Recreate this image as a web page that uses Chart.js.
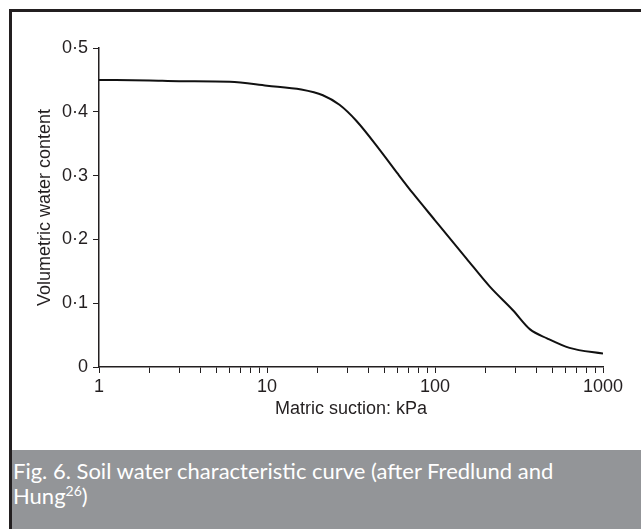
<!DOCTYPE html>
<html>
<head>
<meta charset="utf-8">
<script src="https://cdn.jsdelivr.net/npm/chart.js@4/dist/chart.umd.min.js"></script>
<style>
  html, body { margin:0; padding:0; background:#fff; }
  body { width:641px; height:529px; position:relative; overflow:hidden; }
  #frame { position:absolute; left:9px; top:9px; width:632px; height:520px;
           border-left:3px solid #231f20; border-top:3px solid #231f20; box-sizing:border-box; }
  #wrap { position:absolute; left:12px; top:12px; width:629px; height:438px; }
  #caption { position:absolute; left:12px; top:450px; width:629px; height:79px;
             background:#939598; color:#fff; font-family:"Lato","Open Sans",sans-serif;
             font-size:22px; line-height:25px; padding:8px 0 0 1px; box-sizing:border-box; }
  #caption sup { font-size:14px; line-height:0; vertical-align:0.55em; }
</style>
</head>
<body>
<div id="frame"></div>
<div id="wrap"><canvas id="c" width="629" height="438"></canvas></div>
<div id="caption">Fig. 6. Soil water characteristic curve (after Fredlund and<br>Hung<sup>26</sup>)</div>
<script>
// Matric suction (kPa) and volumetric water content
const suction = [1, 2, 3, 6, 10, 16, 21.5, 27, 34, 47, 60, 74, 100, 154, 212, 291, 368, 464, 632, 1000];
const waterContent = [0.450, 0.449, 0.448, 0.447, 0.441, 0.435, 0.426, 0.411, 0.386, 0.340, 0.303, 0.272, 0.230, 0.170, 0.126, 0.089, 0.059, 0.045, 0.030, 0.021];
const xMajorTicks = [1, 10, 100, 1000];
const xMinorMultipliers = [2, 3, 4, 5, 6, 7, 8, 9];
const yTicks = [0, 0.1, 0.2, 0.3, 0.4, 0.5];
const xTitle = 'Matric suction: kPa';
const yTitle = 'Volumetric water content';

const ink = '#231f20';
const font = { family: '"Liberation Sans", Arial, sans-serif', size: 18 };

const xTickValues = [];
xMajorTicks.forEach((m, i) => {
  xTickValues.push(m);
  if (i < xMajorTicks.length - 1) xMinorMultipliers.forEach(k => xTickValues.push(m * k));
});
xTickValues.sort((a, b) => a - b);

new Chart(document.getElementById('c'), {
  type: 'line',
  data: {
    datasets: [{
      data: suction.map((x, i) => ({ x: x, y: waterContent[i] })),
      borderColor: '#111',
      borderWidth: 2,
      pointRadius: 0,
      fill: false,
      cubicInterpolationMode: 'monotone'
    }]
  },
  options: {
    responsive: false,
    animation: false,
    events: [],
    layout: { padding: { top: 36, right: 38, left: 0, bottom: 0 } },
    plugins: { legend: { display: false }, tooltip: { enabled: false } },
    scales: {
      x: {
        type: 'logarithmic',
        min: 1, max: 1000,
        border: { display: true, color: ink, width: 1.5 },
        grid: { drawOnChartArea: false, drawTicks: true, tickLength: 6, color: ink, lineWidth: 1 },
        afterBuildTicks: s => { s.ticks = xTickValues.map(v => ({ value: v, major: xMajorTicks.includes(v) })); },
        ticks: {
          autoSkip: false, maxRotation: 0, color: ink, font: font, padding: 3,
          callback: v => xMajorTicks.includes(v) ? String(v) : ''
        },
        title: { display: true, text: xTitle, color: ink, font: font, padding: { top: 0, bottom: 30 } },
        afterFit: s => { s.height = 83; }
      },
      y: {
        type: 'linear',
        min: 0, max: 0.5,
        border: { display: true, color: ink, width: 1.5 },
        grid: { drawOnChartArea: false, drawTicks: true, tickLength: 6, color: ink, lineWidth: 1 },
        afterBuildTicks: s => { s.ticks = yTicks.map(v => ({ value: v })); },
        ticks: {
          color: ink, font: font, padding: 5,
          callback: v => v === 0 ? '0' : Number(v).toFixed(1).replace('.', '\u00B7')
        },
        title: { display: true, text: yTitle, color: ink, font: font, padding: { top: 22, bottom: 0 } },
        afterFit: s => { s.width = 87; }
      }
    }
  }
});
</script>
</body>
</html>
